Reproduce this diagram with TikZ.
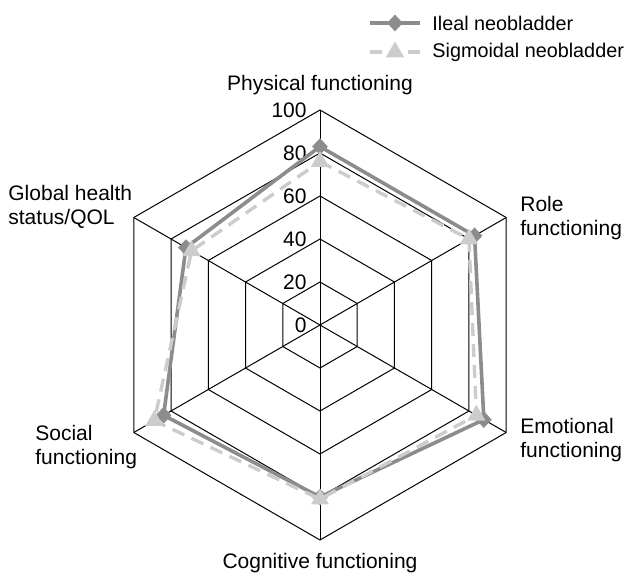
\documentclass[tikz,border=0pt]{standalone}
\usepackage{fontspec}
\setmainfont{Liberation Sans}
\usepackage{xcolor}
\usepackage{tikz}
\usetikzlibrary{shapes.geometric, calc}

\definecolor{ilealgray}{RGB}{140,140,142}
\definecolor{sigmoidgray}{RGB}{204,204,204}

\begin{document}
\begin{tikzpicture}[
  x=0.5pt,
  y=0.5pt,
  font=\fontsize{10.5}{12}\selectfont,
  grid/.style={draw=black, line width=0.5pt, line join=miter},
  ileal/.style={draw=ilealgray, line width=1.8pt, line join=round},
  sigmoid/.style={draw=sigmoidgray, line width=1.7pt, dash pattern=on 6.5pt off 4pt},
  ilealmark/.style={diamond, fill=ilealgray, inner sep=0pt, minimum width=8pt, minimum height=8.5pt},
  sigmoidmark/.style={regular polygon, regular polygon sides=3, fill=sigmoidgray, inner sep=0pt, minimum size=10.5pt},
  axislabel/.style={align=left, inner sep=0pt},
  ticklabel/.style={anchor=east, inner sep=0pt},
  legendtext/.style={anchor=west, inner sep=0pt, font=\fontsize{9.9}{12}\selectfont}
]
\useasboundingbox (0,0) rectangle (633,575);

% Legend
\coordinate (lgIlealA) at (370,552);
\coordinate (lgIlealB) at (420,552);
\coordinate (lgSigA) at (370,523);
\coordinate (lgSigB) at (420,523);
\draw[ileal] (lgIlealA) -- (lgIlealB);
\node[ilealmark] (lgIlealMark) at (395,552) {};
\node[legendtext] (lgIlealText) at (432,552) {Ileal neobladder};
\draw[sigmoid, dash pattern=on 6pt off 13pt] (lgSigA) -- (lgSigB);
\node[sigmoidmark] (lgSigMark) at (395,523) {};
\node[legendtext] (lgSigText) at (432,523) {Sigmoidal neobladder};

\begin{scope}[shift={(320,250)}]
% Grid rings and spokes
\coordinate (ctr) at (0,0);
\foreach \r in {20,40,60,80,100}
  \draw[grid] (90:{2.15*\r}) -- (30:{2.15*\r}) -- (-30:{2.15*\r}) -- (-90:{2.15*\r}) -- (-150:{2.15*\r}) -- (150:{2.15*\r}) -- cycle;
\foreach \i in {1,...,6} {
  \coordinate (ax\i) at ({150-60*\i}:215);
  \draw[grid] (ctr) -- (ax\i);
}

% Tick labels
\foreach \t in {0,20,40,60,80,100}
  \node[ticklabel] (tick\t) at (-13,{2.15*\t}) {\t};

% Data points
\foreach \v [count=\i] in {83,83,88,80,84,72}
  \coordinate (il\i) at ({150-60*\i}:{2.15*\v});
\foreach \v [count=\i] in {76,80,84,81,89,69}
  \coordinate (sg\i) at ({150-60*\i}:{2.15*\v});

% Series
\draw[ileal] (il1) -- (il2) -- (il3) -- (il4) -- (il5) -- (il6) -- cycle;
\foreach \i in {1,...,6}
  \node[ilealmark] (ilm\i) at (il\i) {};
\draw[sigmoid] (sg1) -- (sg2) -- (sg3) -- (sg4) -- (sg5) -- (sg6) -- cycle;
\foreach \i in {1,...,6}
  \node[sigmoidmark] (sgm\i) at (sg\i) {};
\end{scope}

% Axis labels
\node[axislabel] (physical) at (320,490) {Physical functioning};
\node[axislabel, anchor=west] (role) at (520,357) {Role\\functioning};
\node[axislabel, anchor=west] (emotional) at (520,135) {Emotional\\functioning};
\node[axislabel] (cognitive) at (320,12) {Cognitive functioning};
\node[axislabel, anchor=west] (social) at (35,128) {Social\\functioning};
\node[axislabel, anchor=west] (global) at (8,368) {Global health\\status/QOL};

\end{tikzpicture}
\end{document}
